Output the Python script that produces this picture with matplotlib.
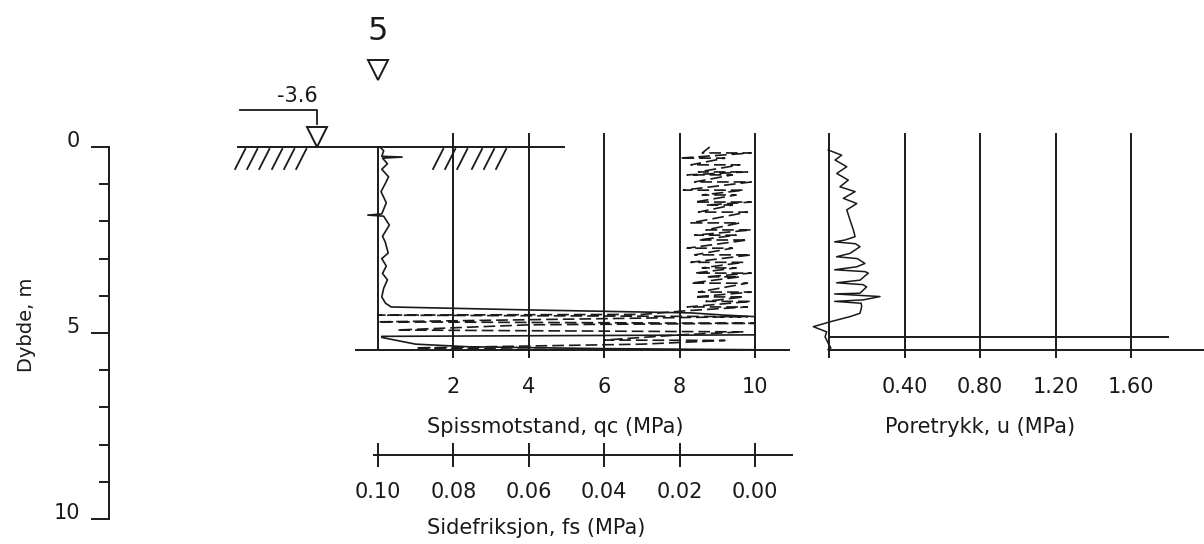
import matplotlib
matplotlib.use("Agg")
import matplotlib.pyplot as plt

plt.rcParams['font.family'] = ['DejaVu Sans']

# figure geometry in pixels, so the panels line up like the drawing
W, H = 1204, 544
Y0, PX_M = 147, 37.2          # ground level row, pixels per metre
QC0, PX_QC = 378, 37.7        # qc = 0 column, pixels per MPa
U0, PX_U = 829, 189.0         # u = 0 column, pixels per MPa
INK = '#1a1a1a'

# cone resistance qc (MPa) against depth (m)
qc_depth = [0.00, 0.10, 0.25, 0.27, 0.30, 0.45, 0.60, 0.80, 0.97, 1.20, 1.50,
            1.80, 1.83, 1.86, 2.10, 2.40, 2.55, 2.85, 3.00, 3.20, 3.40, 3.57,
            3.80, 4.03, 4.20, 4.30, 4.38, 4.46, 4.52, 4.56, 4.80, 5.05, 5.09,
            5.12, 5.20, 5.30, 5.37, 5.42, 5.45]
qc = [0.05, 0.15, 0.10, 0.64, 0.12, 0.25, 0.10, 0.28, 0.20, 0.08, 0.22,
      0.10, -0.27, 0.15, 0.30, 0.12, 0.19, 0.27, 0.10, 0.22, 0.12, 0.25,
      0.15, 0.10, 0.20, 0.35, 4.0, 8.3, 9.2, 10.0, 10.0, 10.0, 0.1,
      0.1, 0.5, 1.0, 2.4, 6.0, 10.0]

# sleeve friction fs (MPa) against depth (m), reversed scale
fs_depth = [0.00, 0.16, 0.16, 0.30, 0.30, 0.48, 0.48, 0.67, 0.67, 0.75, 0.75,
            0.94, 0.94, 1.16, 1.16, 1.29, 1.29, 1.48, 1.48, 1.56, 1.56, 1.75,
            1.75, 2.04, 2.04, 2.23, 2.23, 2.37, 2.37, 2.50, 2.50, 2.72, 2.72,
            2.90, 2.90, 3.10, 3.10, 3.25, 3.25, 3.39, 3.39, 3.49, 3.49, 3.66,
            3.66, 3.90, 3.90, 4.03, 4.03, 4.15, 4.15, 4.30, 4.30, 4.40, 4.50,
            4.52, 4.56, 4.70, 4.74, 4.78, 4.92, 4.97, 5.05, 5.19, 5.20, 5.30,
            5.40, 5.45]
fs = [0.012, 0.014, 0.001, 0.020, 0.008, 0.017, 0.004, 0.015, 0.002, 0.018,
      0.006, 0.016, 0.001, 0.019, 0.003, 0.014, 0.005, 0.016, 0.001, 0.013,
      0.006, 0.015, 0.002, 0.017, 0.004, 0.013, 0.001, 0.016, 0.005, 0.015,
      0.002, 0.018, 0.006, 0.016, 0.001, 0.017, 0.003, 0.014, 0.005, 0.016,
      0.001, 0.013, 0.004, 0.017, 0.002, 0.015, 0.001, 0.016, 0.003, 0.013,
      0.001, 0.018, 0.002, 0.018, 0.030, 0.100, 0.002, 0.100, 0.000, 0.060,
      0.095, 0.003, 0.020, 0.040, 0.008, 0.030, 0.090, 0.050]

# pore pressure u (MPa) against depth (m)
u_depth = [0.08, 0.22, 0.35, 0.53, 0.71, 0.89, 1.07, 1.20, 1.38, 1.52, 1.69,
           1.96, 2.23, 2.41, 2.50, 2.55, 2.60, 2.68, 2.86, 2.95, 3.00, 3.13,
           3.22, 3.30, 3.35, 3.39, 3.58, 3.65, 3.70, 3.76, 3.93, 3.95, 4.02,
           4.11, 4.15, 4.20, 4.29, 4.47, 4.56, 4.70, 4.83, 4.97, 5.10, 5.28,
           5.40, 5.45]
u = [-0.004, 0.067, 0.032, 0.094, 0.041, 0.102, 0.058, 0.138, 0.076, 0.147,
     0.094, 0.111, 0.129, 0.138, 0.085, 0.030, 0.140, 0.164, 0.111, 0.040,
     0.150, 0.190, 0.147, 0.030, 0.190, 0.208, 0.164, 0.040, 0.180, 0.199,
     0.164, 0.030, 0.270, 0.181, 0.030, 0.170, 0.173, 0.164, 0.111, 0.005,
     -0.083, -0.012, -0.021, -0.004, 0.010, -0.005]

qc_ticks = [2, 4, 6, 8, 10]
fs_ticks = [0.10, 0.08, 0.06, 0.04, 0.02, 0.00]
u_ticks = [0.40, 0.80, 1.20, 1.60]
depth_ticks = list(range(11))


def fy(px):
    return 1 - px / H


def dp(px):
    # pixel row -> depth (m)
    return (px - Y0) / PX_M


fig = plt.figure(figsize=(W / 100, H / 100), dpi=100)
fig.patch.set_facecolor('white')

ylim = (dp(H), dp(0))
ax_qc = fig.add_axes([0, 0, 1, 1])
ax_qc.set_xlim(-QC0 / PX_QC, (W - QC0) / PX_QC)
ax_fs = fig.add_axes([0, 0, 1, 1])
ax_fs.set_xlim(0.10 + QC0 / (PX_QC * 100), 0.10 - (W - QC0) / (PX_QC * 100))
ax_u = fig.add_axes([0, 0, 1, 1])
ax_u.set_xlim(-U0 / PX_U, (W - U0) / PX_U)
for ax in (ax_qc, ax_fs, ax_u):
    ax.set_ylim(*ylim)
    ax.axis('off')

lw = 1.4
txt = dict(color=INK, fontsize=15)

# ---- qc / fs panel ----
ax_qc.vlines(qc_ticks, dp(133), dp(358), color=INK, lw=lw)
ax_qc.vlines([0], 0, dp(350), color=INK, lw=lw)
ax_qc.hlines(dp(350), -0.61, 10.93, color=INK, lw=lw)
ax_qc.plot(qc, qc_depth, color=INK, lw=1.2)
ax_fs.plot(fs, fs_depth, color=INK, lw=1.2, ls=(0, (7, 3)))

tr = ax_qc.get_xaxis_transform()
for v in qc_ticks:
    ax_qc.text(v, fy(387), str(v), transform=tr, ha='center', va='center', **txt)
ax_qc.text(4.7, fy(427), 'Spissmotstand, qc (MPa)', transform=tr,
           ha='center', va='center', **txt)

# fs scale bar below
trf = ax_fs.get_xaxis_transform()
ax_fs.plot([fs_ticks[0] + 0.001, fs_ticks[-1] - 0.0098], [fy(455)] * 2,
           transform=trf, color=INK, lw=lw)
for v in fs_ticks:
    ax_fs.plot([v, v], [fy(444), fy(466)], transform=trf, color=INK, lw=lw)
    ax_fs.text(v, fy(492), f'{v:.2f}', transform=trf, ha='center',
               va='center', **txt)
ax_fs.text(0.058, fy(528), 'Sidefriksjon, fs (MPa)', transform=trf,
           ha='center', va='center', **txt)

# ground surface, hatching and water level marks
ax_qc.hlines(0, -3.74, 4.96, color=INK, lw=lw)
for start in [-3.79, -2.81, 1.46, 2.49]:
    for k in range(3):
        x0 = start + k * 0.32
        ax_qc.plot([x0, x0 + 0.27], [dp(169), dp(149)], color=INK, lw=1.3)
ax_qc.plot([-3.66, -1.62, -1.62], [dp(110), dp(110), dp(124)], color=INK, lw=1.3)
ax_qc.plot([-1.62], [dp(137)], marker='v', ms=15, mfc='white', mec=INK, mew=1.4)
ax_qc.text(-2.15, dp(96), '-3.6', ha='center', va='center', color=INK, fontsize=15)
ax_qc.plot([0], [dp(70)], marker='v', ms=15, mfc='white', mec=INK, mew=1.4)
ax_qc.text(0, dp(31), '5', ha='center', va='center', color=INK, fontsize=23)

# ---- pore pressure panel ----
ax_u.vlines([0] + u_ticks, dp(133), dp(358), color=INK, lw=lw)
ax_u.hlines(dp(337), 0, 1.80, color=INK, lw=lw)
ax_u.hlines(dp(350), 0, (W - U0) / PX_U, color=INK, lw=lw)
ax_u.plot(u, u_depth, color=INK, lw=1.1)
tru = ax_u.get_xaxis_transform()
for v in u_ticks:
    ax_u.text(v, fy(387), f'{v:.2f}', transform=tru, ha='center', va='center', **txt)
ax_u.text(0.80, fy(427), 'Poretrykk, u (MPa)', transform=tru,
          ha='center', va='center', **txt)

# ---- depth scale ----
ax_d = fig.add_axes([109 / W, fy(519), 0.002, (519 - Y0) / H])
ax_d.set_ylim(10, 0)
ax_d.set_xticks([])
for s in ('top', 'right', 'bottom'):
    ax_d.spines[s].set_visible(False)
ax_d.spines['left'].set_linewidth(lw)
ax_d.spines['left'].set_color(INK)
ax_d.set_yticks([0, 5, 10], labels=['0', '5', '10'])
ax_d.set_yticks([t for t in depth_ticks if t % 5], minor=True)
ax_d.tick_params(axis='y', which='major', length=13, width=lw, pad=8,
                 labelsize=15, colors=INK)
ax_d.tick_params(axis='y', which='minor', length=7, width=lw, colors=INK)
for lab in ax_d.get_yticklabels():
    lab.set_va('baseline')
fig.text(26 / W, fy(325), 'Dybde, m', rotation=90, ha='center', va='center',
         color=INK, fontsize=14)

fig.savefig('out.png', dpi=100, facecolor='white')
